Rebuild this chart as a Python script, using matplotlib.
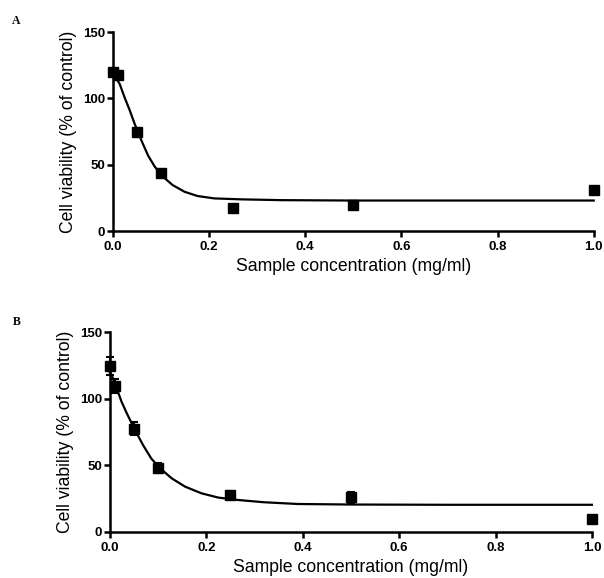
import numpy as np
import matplotlib
matplotlib.use('Agg')
import matplotlib.pyplot as plt

plt.rcParams['font.family'] = ['Liberation Sans', 'DejaVu Sans']

# panel A - measured points
conc = [0.0, 0.01, 0.05, 0.1, 0.25, 0.5, 1.0]
viab_a = [120, 118, 74.5, 43.5, 17.5, 19.5, 31]
# fitted curve
curve_x_a = [0.0, 0.014, 0.024, 0.035, 0.045, 0.059, 0.073, 0.087, 0.104, 0.124,
             0.149, 0.176, 0.211, 0.266, 0.35, 0.5, 1.0]
curve_y_a = [119, 111, 101, 91, 81, 68.5, 57, 48.5, 41, 34.7,
             29.6, 26.4, 24.6, 23.9, 23.3, 23, 23]

# panel B - measured points with error bars
viab_b = [124.5, 109.5, 77.5, 48, 27.5, 26, 10]
err_b = [7, 5, 5, 4, 3, 4, 0]
curve_x_b = [0.0, 0.0035, 0.014, 0.024, 0.035, 0.052, 0.069, 0.086, 0.104, 0.128,
             0.156, 0.19, 0.225, 0.266, 0.32, 0.39, 0.5, 0.7, 1.0]
curve_y_b = [119.5, 117.8, 107.8, 97.8, 89, 76.5, 65, 55, 47.8, 40.3,
             34, 29, 25.8, 24, 22.3, 21, 20.6, 20.4, 20.4]

xticks = [0.0, 0.2, 0.4, 0.6, 0.8, 1.0]
yticks = [0, 50, 100, 150]

fig = plt.figure(figsize=(6.04, 5.78), dpi=100)
ax_a = fig.add_axes([0.187, 0.6003, 0.796, 0.344])
ax_b = fig.add_axes([0.182, 0.0796, 0.798, 0.346])


def style(ax):
    ax.set_xlim(0, 1.0)
    ax.set_ylim(0, 150)
    ax.set_xticks(xticks)
    ax.set_yticks(yticks)
    ax.set_xticklabels([f'{t:.1f}' for t in xticks], fontweight='bold', fontsize=9.5)
    ax.set_yticklabels([str(t) for t in yticks], fontweight='bold', fontsize=9.5)
    for s in ['top', 'right']:
        ax.spines[s].set_visible(False)
    for s in ['left', 'bottom']:
        ax.spines[s].set_linewidth(1.8)
    ax.tick_params(axis='x', direction='out', length=4, width=1.8, pad=3.5)
    ax.tick_params(axis='y', direction='out', length=4, width=1.8, pad=1.5)
    ax.set_xlabel('Sample concentration (mg/ml)', fontsize=12.7, labelpad=3.5)
    ax.set_ylabel('Cell viability (% of control)', fontsize=12.7, labelpad=4.5)


ax_a.plot(curve_x_a, curve_y_a, color='black', lw=1.6, clip_on=False,
          solid_joinstyle='round')
ax_a.plot(conc, viab_a, 's', color='black', ms=6.5, clip_on=False)
style(ax_a)

ax_b.plot(curve_x_b, curve_y_b, color='black', lw=1.6, clip_on=False,
          solid_joinstyle='round')
ax_b.errorbar(conc, viab_b, yerr=err_b, fmt='s', color='black', ms=6.5,
              elinewidth=1.5, capsize=3, capthick=1.5, clip_on=False)
style(ax_b)

fig.text(16 / 604, 1 - 21 / 578, 'A', family='Liberation Serif', fontweight='bold',
         fontsize=8.5, ha='center', va='center')
fig.text(17 / 604, 1 - 322 / 578, 'B', family='Liberation Serif', fontweight='bold',
         fontsize=8.5, ha='center', va='center')

fig.savefig('out.png', dpi=100)
